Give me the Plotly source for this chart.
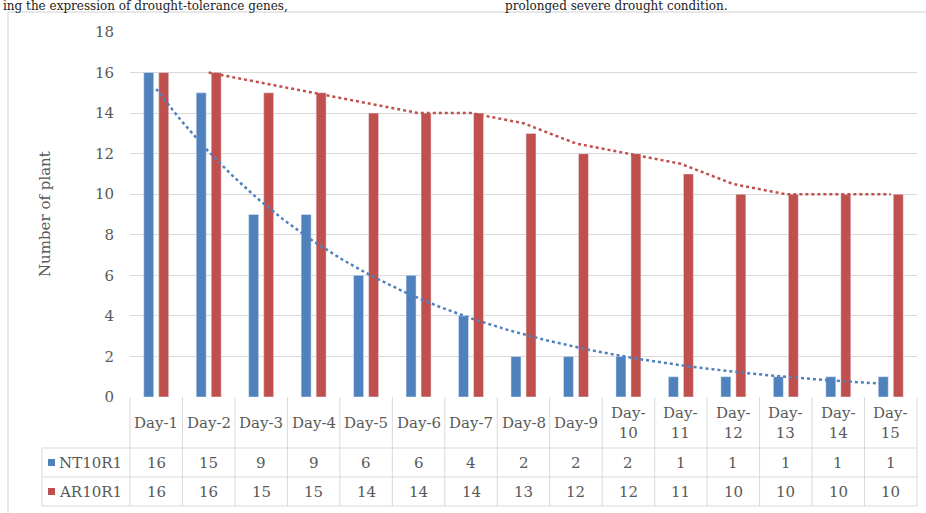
import numpy as np
import plotly.graph_objects as go

# ---- data ----
days = ["Day-1", "Day-2", "Day-3", "Day-4", "Day-5", "Day-6", "Day-7", "Day-8", "Day-9",
        "Day-10", "Day-11", "Day-12", "Day-13", "Day-14", "Day-15"]
nt10r1 = [16, 15, 9, 9, 6, 6, 4, 2, 2, 2, 1, 1, 1, 1, 1]
ar10r1 = [16, 16, 15, 15, 14, 14, 14, 13, 12, 12, 11, 10, 10, 10, 10]
series_names = ["NT10R1", "AR10R1"]
y_ticks = [0, 2, 4, 6, 8, 10, 12, 14, 16, 18]

BLUE = "#4F81BD"
RED = "#C0504D"
GRID = "#D9D9D9"
TXT = "#595959"
FONT = "DejaVu Serif"

W, H = 926, 513
L, R, T, B = 130, 926 - 917, 32, 513 - 397
PW, PH = W - L - R, H - T - B


def px(xp):
    return (xp - L) / PW


def py(yp):
    return (H - B - yp) / PH


n = len(days)
xs = np.arange(n)

fig = go.Figure()
fig.add_trace(go.Bar(x=xs, y=nt10r1, name=series_names[0], marker_color=BLUE,
                     width=0.19, offset=-0.238, showlegend=False))
fig.add_trace(go.Bar(x=xs, y=ar10r1, name=series_names[1], marker_color=RED,
                     width=0.19, offset=0.048, showlegend=False))

# exponential trendline for NT10R1 (least-squares fit on log values, as Excel does)
b, a = np.polyfit(xs + 1, np.log(nt10r1), 1)
xf = np.linspace(0, n - 1, 200)
fig.add_trace(go.Scatter(x=xf, y=np.exp(a + b * (xf + 1)), mode="lines",
                         line=dict(color=BLUE, width=2.5, dash="3px,3px"),
                         hoverinfo="skip", showlegend=False))
# 2-period moving average trendline for AR10R1
ar = np.array(ar10r1, dtype=float)
ma = (ar[1:] + ar[:-1]) / 2
fig.add_trace(go.Scatter(x=xs[1:], y=ma, mode="lines",
                         line=dict(color=RED, width=2.5, dash="3px,3px"),
                         hoverinfo="skip", showlegend=False))

shapes = []
ann = []
colw = PW / n
# data-table grid
row_top, row1, row2, row3 = 397, 448, 477, 506
for k in range(n + 1):
    xp = L + k * colw
    shapes.append(dict(type="line", xref="paper", yref="paper",
                       x0=px(xp), x1=px(xp), y0=py(row_top), y1=py(row3),
                       line=dict(color=GRID, width=1)))
for yy in (row1, row2, row3):
    shapes.append(dict(type="line", xref="paper", yref="paper",
                       x0=px(42), x1=px(L + n * colw), y0=py(yy), y1=py(yy),
                       line=dict(color=GRID, width=1)))
shapes.append(dict(type="line", xref="paper", yref="paper",
                   x0=px(42), x1=px(42), y0=py(row1), y1=py(row3),
                   line=dict(color=GRID, width=1)))

# category labels
for i, d in enumerate(days):
    label = d if len(d) <= 5 else d.replace("-", "-<br>")
    ann.append(dict(x=i, y=py((row_top + row1) / 2), xref="x", yref="paper",
                    text=label, showarrow=False, xanchor="center", yanchor="middle",
                    font=dict(family=FONT, size=15, color=TXT)))
# values
for vals, yc in ((nt10r1, (row1 + row2) / 2), (ar10r1, (row2 + row3) / 2)):
    for i, v in enumerate(vals):
        ann.append(dict(x=i, y=py(yc), xref="x", yref="paper", text=str(v),
                        showarrow=False, xanchor="center", yanchor="middle",
                        font=dict(family=FONT, size=15, color=TXT)))
# row labels with key squares
for name, col, yc in ((series_names[0], BLUE, (row1 + row2) / 2),
                      (series_names[1], RED, (row2 + row3) / 2)):
    shapes.append(dict(type="rect", xref="paper", yref="paper",
                       x0=px(48), x1=px(55), y0=py(yc - 3.5), y1=py(yc + 3.5),
                       fillcolor=col, line=dict(width=0)))
    ann.append(dict(x=px(57), y=py(yc), xref="paper", yref="paper", text=name,
                    showarrow=False, xanchor="left", yanchor="middle",
                    font=dict(family=FONT, size=15, color=TXT)))

# chart frame (left & top)
shapes.append(dict(type="line", xref="paper", yref="paper",
                   x0=px(8), x1=px(8), y0=py(12), y1=py(530),
                   line=dict(color="#D0D0D0", width=1)))
shapes.append(dict(type="line", xref="paper", yref="paper",
                   x0=px(8), x1=px(930), y0=py(12), y1=py(12),
                   line=dict(color="#D0D0D0", width=1)))

# y-axis title
ann.append(dict(x=px(45), y=py(214), xref="paper", yref="paper",
                text="Number of plant", textangle=-90, showarrow=False,
                xanchor="center", yanchor="middle",
                font=dict(family=FONT, size=15, color=TXT)))

# page text above the chart
ann.append(dict(x=px(1), y=py(6), xref="paper", yref="paper",
                text="ing the expression of drought-tolerance genes,",
                showarrow=False, xanchor="left", yanchor="middle",
                font=dict(family="DejaVu Serif", size=12, color="#222222")))
ann.append(dict(x=px(503), y=py(6), xref="paper", yref="paper",
                text="prolonged severe drought condition.",
                showarrow=False, xanchor="left", yanchor="middle",
                font=dict(family="DejaVu Serif", size=12, color="#222222")))

fig.update_layout(
    width=W, height=H,
    margin=dict(l=L, r=R, t=T, b=B, pad=0),
    paper_bgcolor="white", plot_bgcolor="white",
    barmode="overlay",
    shapes=shapes, annotations=ann,
    xaxis=dict(range=[-0.5, n - 0.5], showticklabels=False, showgrid=False,
               zeroline=False, showline=False, ticks=""),
    yaxis=dict(range=[0, 18], tickvals=y_ticks, showgrid=True, gridcolor=GRID,
               gridwidth=1, zeroline=False, showline=False, ticks="",
               ticklabelstandoff=15,
               tickfont=dict(family=FONT, size=15, color=TXT)),
)

fig.write_html("out.html", config={"displayModeBar": False},
               post_script="document.body.style.margin='0';document.body.style.overflow='hidden';")
